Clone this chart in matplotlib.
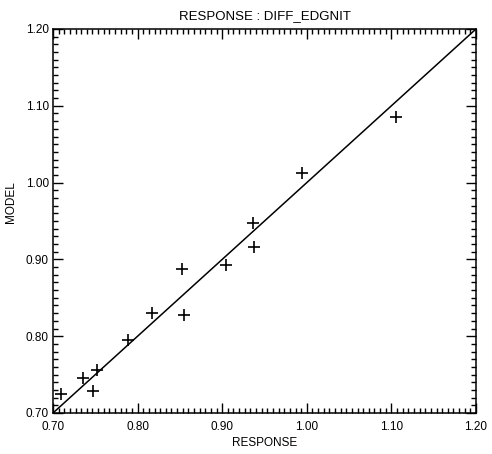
import matplotlib
matplotlib.use("Agg")
import matplotlib.pyplot as plt
from matplotlib.ticker import MultipleLocator, FormatStrFormatter

# Data
response = [0.710, 0.736, 0.747, 0.752, 0.789, 0.817, 0.852, 0.855, 0.905, 0.936, 0.938, 0.994, 1.105]
model = [0.725, 0.746, 0.729, 0.756, 0.795, 0.830, 0.887, 0.827, 0.893, 0.948, 0.916, 1.012, 1.085]
fit_x = [0.70, 1.20]
fit_y = [0.70, 1.20]

title = "RESPONSE : DIFF_EDGNIT"
xlabel = "RESPONSE"
ylabel = "MODEL"

plt.rcParams['font.family'] = ['Liberation Sans', 'DejaVu Sans']

fig = plt.figure(figsize=(4.92, 4.54), dpi=100)
ax = fig.add_axes([53/492, 1-413/454, (476-53)/492, (413-29)/454])

ax.plot(fit_x, fit_y, color='black', lw=1.1)
ax.plot(response, model, linestyle='none', marker='+', color='black', markersize=8, mew=1.2)

ax.set_xlim(0.70, 1.20)
ax.set_ylim(0.70, 1.20)
ax.xaxis.set_major_locator(MultipleLocator(0.1))
ax.yaxis.set_major_locator(MultipleLocator(0.1))
ax.xaxis.set_minor_locator(MultipleLocator(0.1/15))
ax.yaxis.set_minor_locator(MultipleLocator(0.01))
ax.xaxis.set_major_formatter(FormatStrFormatter('%.2f'))
ax.yaxis.set_major_formatter(FormatStrFormatter('%.2f'))

ax.tick_params(which='both', direction='in', top=True, right=True, labelsize=8.5, width=1.0)
ax.tick_params(which='major', length=7)
ax.tick_params(which='minor', length=3.5)
ax.tick_params(axis='x', which='major', pad=6)
ax.tick_params(axis='y', which='major', pad=3)
for s in ax.spines.values():
    s.set_linewidth(1.1)

ax.set_title(title, fontsize=9.5, pad=7)
ax.set_xlabel(xlabel, fontsize=8.5, labelpad=3)
ax.set_ylabel(ylabel, fontsize=8.5, labelpad=10)
ax.yaxis.set_label_coords(-0.085, 0.55)

fig.savefig("out.png", dpi=100)
